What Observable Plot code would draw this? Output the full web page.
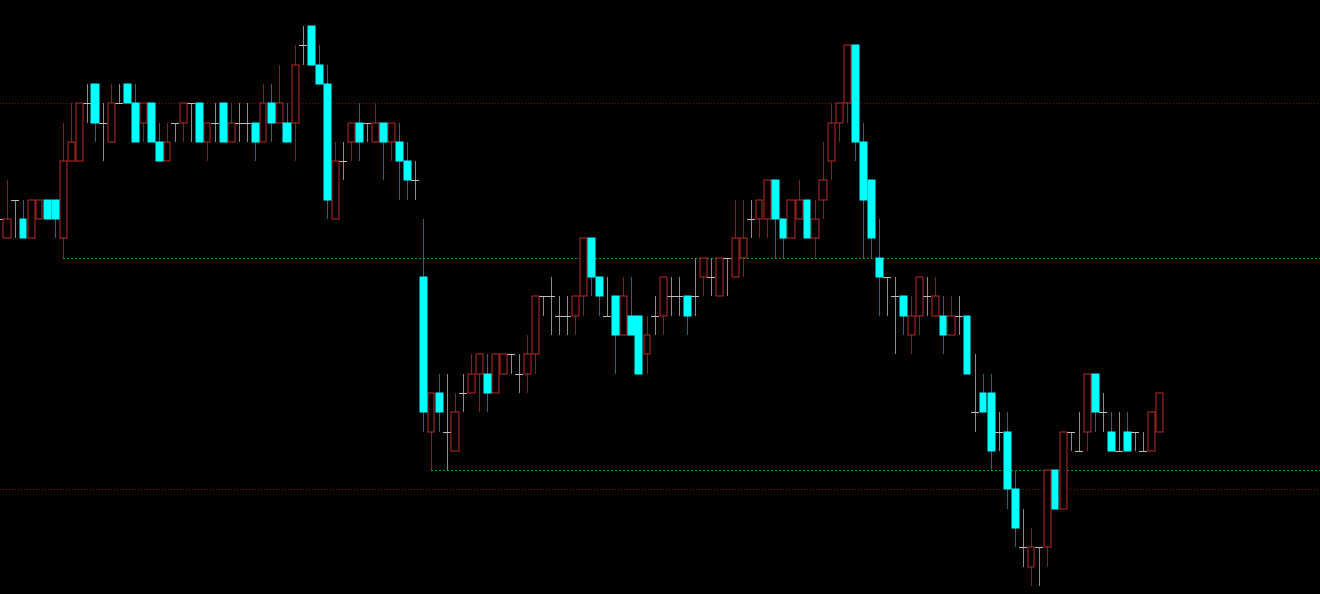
<!DOCTYPE html>
<html>
<head>
<meta charset="utf-8">
<script src="https://cdn.jsdelivr.net/npm/d3@7"></script>
<script src="https://cdn.jsdelivr.net/npm/@observablehq/plot@0.6"></script>
<style>
html,body{margin:0;padding:0;background:#000;overflow:hidden}
#chart svg{display:block}
</style>
</head>
<body>
<div id="chart"></div>
<script>
// Prices expressed in grid steps (0 = lowest visible level)
const open = [19,18,20,19,18,19,20,20,18,22,22,25,26,24,23,25,26,25,24,25,23,22,24,24,25,25,23,24,25,23,24,24,24,23,25,24,24,24,28,29,27,26,19,22,23,24,24,23,24,23,23,22,21,16,8,10,8,7,10,10,11,11,10,11,12,11,11,12,15,15,14,14,14,15,18,16,14,15,13,14,14,12,14,14,15,15,15,15,16,16,15,17,16,17,19,19,19,21,19,18,19,20,18,20,22,24,25,28,23,21,17,16,15,15,13,14,15,14,14,13,14,14,9,10,10,8,8,5,2,1,2,2,6,4,8,7,8,11,9,8,7,8,8,7,7,8];
const high = [20,21,20,20,20,20,20,20,24,25,25,26,26,25,26,26,26,26,25,25,24,24,24,25,25,25,24,25,25,25,25,25,24,26,26,27,25,28,29,29,28,27,23,23,24,25,24,25,24,24,24,23,22,19,10,11,11,10,11,12,12,12,12,12,12,12,13,15,15,16,15,15,15,18,18,16,16,15,16,16,14,14,15,16,16,16,15,17,17,17,17,17,20,20,20,20,21,21,19,20,21,20,20,23,25,25,28,28,24,21,19,16,16,15,15,16,16,16,15,15,15,14,12,11,11,9,9,6,4,3,2,6,6,8,8,9,11,11,10,9,9,9,8,8,9,10];
const low = [18,18,18,18,18,19,19,18,17,22,22,24,23,22,23,25,25,23,23,23,22,22,23,23,23,23,22,23,23,23,23,23,22,23,23,24,23,22,27,27,26,19,19,21,22,22,23,23,21,22,20,20,20,8,6,8,6,7,9,10,9,9,10,11,11,10,10,11,14,13,13,13,13,14,15,14,14,11,13,13,11,11,13,13,14,14,13,14,15,15,15,15,16,16,18,18,18,17,17,18,19,18,17,19,21,23,24,22,17,17,14,14,12,13,12,13,14,14,12,13,13,11,8,9,6,7,4,2,1,0,0,1,4,4,7,7,7,8,8,7,7,7,7,7,7,8];
const close = [19,19,20,18,20,20,19,19,22,23,25,25,24,24,25,25,25,23,25,23,22,23,24,25,25,23,24,24,23,24,24,24,23,25,24,25,23,27,28,27,26,20,22,22,24,23,24,24,23,24,22,21,21,9,10,9,8,9,10,11,12,10,12,12,12,11,12,15,15,15,14,14,15,18,16,15,14,13,15,13,11,13,14,16,15,15,14,15,17,16,17,17,18,18,19,20,21,19,18,20,20,18,19,21,24,25,28,23,20,18,16,16,15,14,14,16,15,15,13,14,14,11,9,9,7,8,5,3,2,2,2,6,4,8,8,7,11,9,9,7,7,7,8,7,9,10];

// Horizontal reference levels
const redLevels = [25, 5];
const greenLevels = [17, 6];
const greenStart = [8, 54];

const candles = open.map((o, i) => ({i, open: o, high: high[i], low: low[i], close: close[i]}));
const up = candles.filter(d => d.close > d.open);
const down = candles.filter(d => d.close < d.open);
const doji = candles.filter(d => d.close === d.open);
const greens = greenLevels.map((y, k) => ({y, from: greenStart[k]}));
const half = 3.5 / 8;

const chart = Plot.plot({
  width: 1320,
  height: 594,
  margin: 0,
  style: {background: "#000", overflow: "hidden"},
  x: {domain: [0, 165], range: [-1, 1319], round: true, axis: null},
  y: {domain: [0, 29], range: [586, 26], round: true, axis: null},
  marks: [
    Plot.ruleY(redLevels, {y: d => d, stroke: "#7a0000", strokeWidth: 1, strokeDasharray: "1,2"}),
    Plot.ruleY(greens, {y: "y", x1: "from", x2: () => 166, stroke: "#00a800", strokeWidth: 1, strokeDasharray: "2,2"}),
    Plot.ruleX(up, {x: "i", y1: "low", y2: "high", stroke: "#8e1c1c", strokeWidth: 1}),
    Plot.ruleX(down, {x: "i", y1: "low", y2: "high", stroke: "#007878", strokeWidth: 1}),
    Plot.ruleX(doji, {x: "i", y1: "low", y2: "high", stroke: "#8a8a8a", strokeWidth: 1}),
    Plot.ruleY(doji, {y: "open", x1: d => d.i - half - 0.0625, x2: d => d.i + half + 0.0625, stroke: "#bdbdbd", strokeWidth: 1}),
    Plot.rect(up, {x1: d => d.i - half, x2: d => d.i + half, y1: "open", y2: "close", fill: "#000", stroke: "#c02a2a", strokeWidth: 1}),
    Plot.rect(down, {x1: d => d.i - half, x2: d => d.i + half, y1: "open", y2: "close", fill: "#00ffff", stroke: "#00ffff", strokeWidth: 1})
  ]
});
document.getElementById("chart").appendChild(chart);
</script>
</body>
</html>
